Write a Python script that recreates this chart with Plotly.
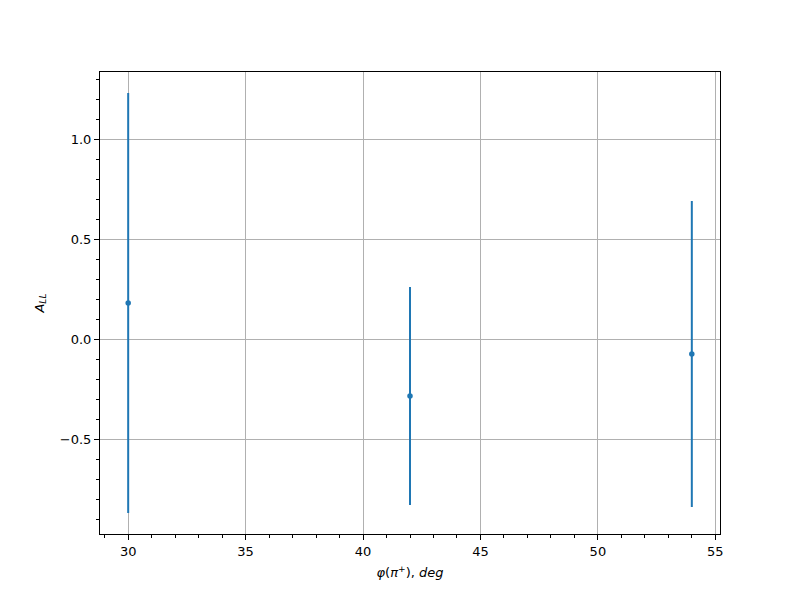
import plotly.graph_objects as go

phi = [30, 42, 54]
a_ll = [0.18, -0.285, -0.075]
a_ll_err = [1.05, 0.545, 0.765]

color = "#1f77b4"
font = "DejaVu Sans"

fig = go.Figure()
fig.add_trace(go.Scatter(
    x=phi, y=a_ll, mode="markers",
    marker=dict(color=color, size=5.5),
    error_y=dict(type="data", array=a_ll_err, visible=True, color=color,
                 thickness=2, width=0),
    showlegend=False,
))

xmin = min(phi); xmax = max(phi)
ymin = min(v - e for v, e in zip(a_ll, a_ll_err))
ymax = max(v + e for v, e in zip(a_ll, a_ll_err))
xm = 0.05 * (xmax - xmin); ym = 0.05 * (ymax - ymin)

axis_common = dict(
    showline=True, linecolor="black", linewidth=1, mirror=True,
    ticks="outside", ticklen=5, tickwidth=1, tickcolor="black",
    showgrid=True, gridcolor="#b0b0b0", gridwidth=1,
    zeroline=False,
    tickfont=dict(family=font, size=13, color="black"),
)

fig.update_xaxes(
    range=[xmin - xm, xmax + xm], tick0=0, dtick=5,
    minor=dict(ticks="outside", ticklen=3, tickwidth=0.8, tickcolor="black", dtick=1, showgrid=False),
    title=dict(text="<i>φ</i>(<i>π</i><sup>+</sup>), <i>deg</i>", font=dict(family=font, size=13, color="black"), standoff=10),
    **axis_common,
)
fig.update_yaxes(
    range=[ymin - ym, ymax + ym], tick0=0, dtick=0.5, tickformat=".1f",
    minor=dict(ticks="outside", ticklen=3, tickwidth=0.8, tickcolor="black", dtick=0.1, showgrid=False),
    title=dict(text="<i>A</i><sub><i>LL</i></sub>", font=dict(family=font, size=13, color="black"), standoff=12),
    **axis_common,
)

fig.update_layout(
    width=800, height=600,
    margin=dict(l=92, r=88, t=64, b=74),
    plot_bgcolor="white", paper_bgcolor="white",
    font=dict(family=font, size=13, color="black"),
)

fig.write_html("out.html")
